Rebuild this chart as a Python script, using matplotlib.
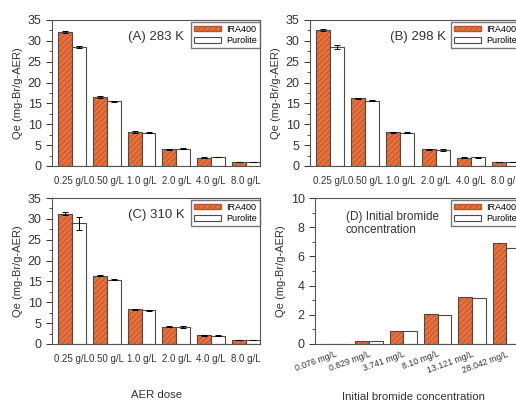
import matplotlib
matplotlib.use("Agg")
import matplotlib.pyplot as plt
import numpy as np
from matplotlib.patches import Patch
from matplotlib.ticker import MultipleLocator

plt.rcParams['font.family'] = ['Liberation Sans', 'DejaVu Sans']
plt.rcParams['hatch.color'] = '#b9542a'
plt.rcParams['hatch.linewidth'] = 0.6

# datos
dosis = ["0.25 g/L", "0.50 g/L", "1.0 g/L", "2.0 g/L", "4.0 g/L", "8.0 g/L"]
conc = ["0.076 mg/L", "0.829 mg/L", "3.741 mg/L", "8.10 mg/L", "13.121 mg/L", "28.042 mg/L"]

ira_283 = [32.2, 16.5, 8.15, 4.0, 2.0, 0.9]
pur_283 = [28.5, 15.5, 8.0, 4.1, 2.15, 0.9]
ira_283_err = [0.2, 0.2, 0.2, 0.1, 0.1, 0.05]
pur_283_err = [0.2, 0.2, 0.1, 0.1, 0.1, 0.05]

ira_298 = [32.6, 16.2, 8.1, 4.0, 2.0, 0.9]
pur_298 = [28.5, 15.7, 8.0, 3.85, 2.1, 0.9]
ira_298_err = [0.2, 0.1, 0.1, 0.1, 0.1, 0.05]
pur_298_err = [0.4, 0.2, 0.1, 0.2, 0.1, 0.05]

ira_310 = [31.25, 16.4, 8.3, 4.1, 2.1, 0.95]
pur_310 = [28.9, 15.4, 8.1, 4.0, 2.0, 0.95]
ira_310_err = [0.3, 0.2, 0.1, 0.1, 0.1, 0.05]
pur_310_err = [1.6, 0.1, 0.1, 0.2, 0.1, 0.05]

ira_conc = [0.0, 0.18, 0.89, 2.05, 3.24, 6.9]
pur_conc = [0.0, 0.18, 0.91, 2.0, 3.15, 6.58]

naranja = '#e8703a'
borde = '#4a4a4a'
texto = '#333333'
W, H = 516, 405


def caja(izq, der, arriba, abajo):
    return [izq / W, (H - abajo) / H, (der - izq) / W, (abajo - arriba) / H]


def barras(ax, cats, ira, pur, ira_err=None, pur_err=None, ymax=35, paso=5):
    x = np.arange(len(cats))
    w = 0.4
    ax.bar(x - w / 2, ira, w, color=naranja, hatch='//////', lw=0)
    ax.bar(x - w / 2, ira, w, facecolor='none', edgecolor=borde, lw=0.8)
    ax.bar(x + w / 2, pur, w, color='white', edgecolor=borde, lw=0.8)
    if ira_err is not None:
        ax.errorbar(x - w / 2, ira, yerr=ira_err, fmt='none', ecolor='black',
                    elinewidth=0.7, capsize=2, capthick=0.7)
        ax.errorbar(x + w / 2, pur, yerr=pur_err, fmt='none', ecolor='black',
                    elinewidth=0.7, capsize=2, capthick=0.7)
    ax.set_xlim(-0.57, 5.4)
    ax.set_ylim(0, ymax)
    ax.yaxis.set_major_locator(MultipleLocator(paso))
    ax.yaxis.set_minor_locator(MultipleLocator(paso / 2))
    ax.set_xticks(x)
    ax.tick_params(axis='x', length=0, labelsize=7, colors=texto, pad=7)
    ax.tick_params(axis='y', which='major', length=4, width=0.7, labelsize=9,
                   colors=texto, direction='out')
    ax.tick_params(axis='y', which='minor', length=2, width=0.6, colors=texto)
    for s in ax.spines.values():
        s.set_color('#555555')
        s.set_linewidth(0.8)
    ax.set_ylabel("Qe (mg-Br/g-AER)", fontsize=8, color=texto, labelpad=3)
    leyenda = [Patch(facecolor=naranja, hatch='//////', edgecolor='#b9542a', label='IRA400'),
               Patch(facecolor='white', edgecolor=borde, lw=0.8, label='Purolite')]
    ax.legend(handles=leyenda, loc='upper right', bbox_to_anchor=(1.0, 0.985),
              fontsize=6.5, frameon=True, fancybox=False, edgecolor='#555555',
              handlelength=3.0, handleheight=0.5, borderaxespad=0,
              labelspacing=0.25, borderpad=0.3, handletextpad=0.6)


fig = plt.figure(figsize=(5.16, 4.05), dpi=100)

axA = fig.add_axes(caja(52, 260, 20, 166))
barras(axA, dosis, ira_283, pur_283, ira_283_err, pur_283_err)
axA.set_xticklabels(dosis)
axA.text(0.365, 0.865, "(A) 283 K", transform=axA.transAxes, fontsize=9.5, color=texto)

axB = fig.add_axes(caja(310, 520, 20, 166))
barras(axB, dosis, ira_298, pur_298, ira_298_err, pur_298_err)
axB.set_xticklabels(dosis)
axB.text(0.38, 0.865, "(B) 298 K", transform=axB.transAxes, fontsize=9.5, color=texto)

axC = fig.add_axes(caja(52, 260, 198, 344))
barras(axC, dosis, ira_310, pur_310, ira_310_err, pur_310_err)
axC.set_xticklabels(dosis)
axC.text(0.365, 0.865, "(C) 310 K", transform=axC.transAxes, fontsize=9.5, color=texto)

axD = fig.add_axes(caja(315, 520, 198, 344))
barras(axD, conc, ira_conc, pur_conc, ymax=10, paso=2)
axD.set_xticklabels(conc, rotation=20, ha='right', rotation_mode='anchor')
axD.tick_params(axis='x', labelsize=6.3, pad=4)
axD.text(0.15, 0.76, "(D) Initial bromide\nconcentration", transform=axD.transAxes,
         fontsize=8.5, color=texto, linespacing=1.15)

fig.text(157 / W, 1 - 395 / H, "AER dose", ha='center', va='center', fontsize=8.2, color=texto)
fig.text(413 / W, 1 - 397 / H, "Initial bromide concentration", ha='center', va='center',
         fontsize=8.2, color=texto)

fig.savefig("out.png", dpi=100)
